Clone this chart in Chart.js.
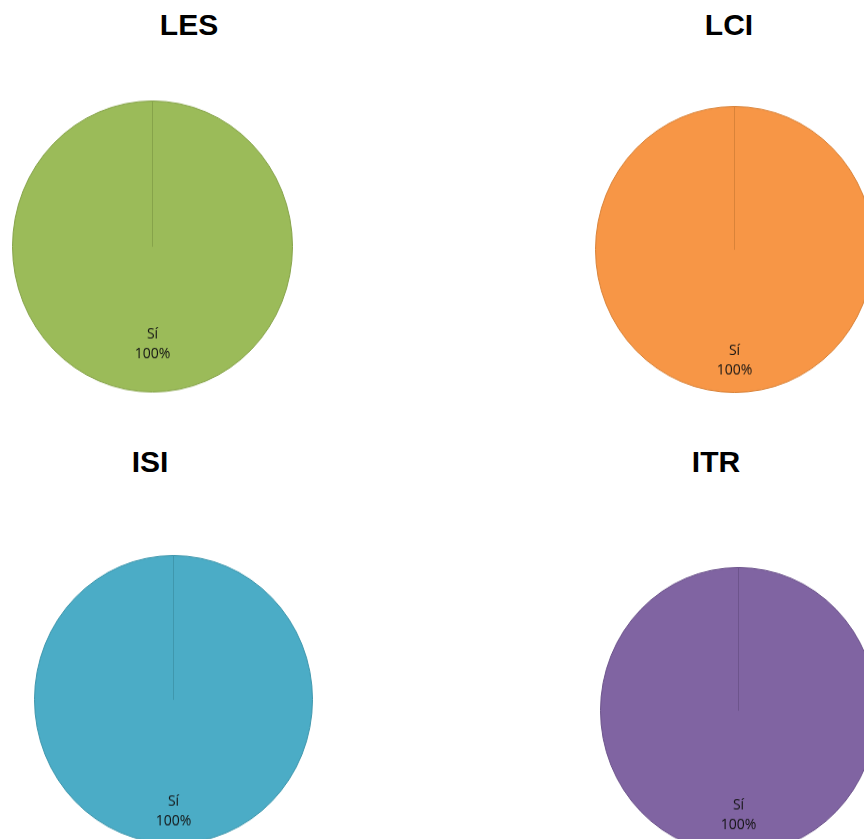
<!DOCTYPE html>
<html>
<head>
<meta charset="utf-8">
<script src="https://cdn.jsdelivr.net/npm/chart.js@4/dist/chart.umd.min.js"></script>
<style>
  html, body { margin:0; padding:0; width:864px; height:839px; overflow:hidden; background:#fff; }
  .wrap { position:absolute; transform-origin:50% 50%; }
  .title { position:absolute; font-family:"Liberation Sans", Arial, sans-serif; font-weight:bold; font-size:30px; color:#000; transform:translate(-50%,-50%); white-space:nowrap; }
</style>
</head>
<body>
<script>
// Data
const chartTitles = ['LES', 'LCI', 'ISI', 'ITR'];
const categories = ['Sí'];
const lesValues = [100];
const lciValues = [100];
const isiValues = [100];
const itrValues = [100];

// Presentation
const seriesValues = [lesValues, lciValues, isiValues, itrValues];
const fills = ['#9BBB59', '#F79646', '#4BACC6', '#8064A2'];
const borders = ['#86a34a', '#d98339', '#3f97ad', '#6d548c'];
const layout = [
  { cx: 152, cy: 246.5, rx: 140, ry: 145.5, tx: 189, ty: 25, lr: 0.67 },
  { cx: 734, cy: 249.7, rx: 139, ry: 143, tx: 729, ty: 25, lr: 0.775 },
  { cx: 173.5, cy: 699, rx: 139, ry: 144, tx: 150, ty: 462, lr: 0.777 },
  { cx: 738, cy: 710, rx: 138, ry: 143, tx: 716, ty: 462, lr: 0.733 }
];

const sliceLabels = {
  id: 'sliceLabels',
  afterDatasetsDraw(chart, args, opts) {
    const ctx = chart.ctx;
    const meta = chart.getDatasetMeta(0);
    const data = chart.data.datasets[0].data;
    const total = data.reduce((a, b) => a + b, 0);
    meta.data.forEach((arc, i) => {
      const p = arc.getProps(['x', 'y', 'startAngle', 'endAngle', 'outerRadius'], true);
      const mid = (p.startAngle + p.endAngle) / 2;
      const d = p.outerRadius * (opts.radius || 0.7);
      const x = p.x + Math.cos(mid) * d;
      const y = p.y + Math.sin(mid) * d;
      ctx.save();
      ctx.fillStyle = '#141414';
      ctx.font = '14px "Open Sans", "Liberation Sans", sans-serif';
      ctx.textAlign = 'center';
      ctx.textBaseline = 'middle';
      const pct = Math.round(data[i] / total * 100) + '%';
      ctx.fillText(chart.data.labels[i], x, y - 9.5);
      ctx.fillText(pct, x, y + 9.5);
      ctx.restore();
    });
  }
};

layout.forEach((L, k) => {
  const size = 2 * L.rx + 1;
  const wrap = document.createElement('div');
  wrap.className = 'wrap';
  wrap.style.left = (L.cx - size / 2) + 'px';
  wrap.style.top = (L.cy - size / 2) + 'px';
  wrap.style.width = size + 'px';
  wrap.style.height = size + 'px';
  wrap.style.transform = 'scaleY(' + (L.ry / L.rx) + ')';
  const cv = document.createElement('canvas');
  wrap.appendChild(cv);
  document.body.appendChild(wrap);

  const t = document.createElement('div');
  t.className = 'title';
  t.style.left = L.tx + 'px';
  t.style.top = L.ty + 'px';
  t.textContent = chartTitles[k];
  document.body.appendChild(t);

  new Chart(cv, {
    type: 'pie',
    data: {
      labels: categories,
      datasets: [{
        data: seriesValues[k],
        backgroundColor: fills[k],
        borderColor: borders[k],
        borderWidth: 1,
        hoverOffset: 0
      }]
    },
    options: {
      responsive: true,
      maintainAspectRatio: false,
      animation: false,
      layout: { padding: 0 },
      plugins: {
        legend: { display: false },
        tooltip: { enabled: false },
        title: { display: false },
        sliceLabels: { radius: L.lr }
      }
    },
    plugins: [sliceLabels]
  });
});
</script>
</body>
</html>
